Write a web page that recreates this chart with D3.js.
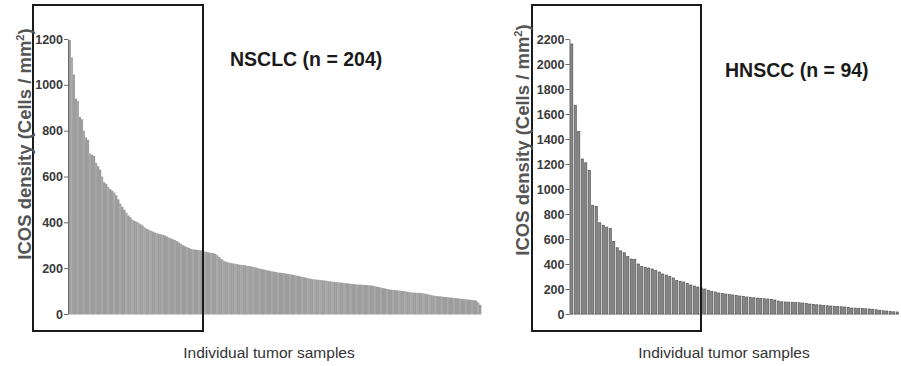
<!DOCTYPE html>
<html>
<head>
<meta charset="utf-8">
<script src="https://cdn.jsdelivr.net/npm/d3@7"></script>
<style>
  body { margin: 0; background: #fff; }
  svg { display: block; font-family: "Liberation Sans", Arial, sans-serif; }
</style>
</head>
<body>
<div id="chart"></div>
<script>
// ICOS density per tumor sample, sorted descending
const nsclcValues = [
  1195, 1120, 1045, 940, 930, 860, 850, 800, 770, 760,
  700, 695, 690, 660, 645, 630, 600, 575, 568, 555,
  545, 538, 530, 518, 500, 482, 468, 455, 442, 430,
  422, 412, 406, 402, 398, 392, 386, 378, 372, 368,
  364, 360, 356, 353, 350, 348, 346, 343, 338, 334,
  330, 326, 323, 318, 312, 306, 300, 296, 292, 288,
  284, 282, 281, 280, 279, 278, 276, 272, 270, 268,
  267, 266, 262, 256, 248, 240, 234, 229, 226, 224,
  222, 220, 219, 217, 215, 214, 213, 212, 210, 209,
  207, 205, 203, 200, 198, 196, 194, 192, 190, 188,
  186, 185, 183, 181, 180, 179, 178, 176, 175, 173,
  172, 170, 168, 166, 164, 162, 160, 158, 156, 154,
  152, 151, 150, 149, 148, 147, 146, 145, 143, 142,
  141, 140, 139, 138, 137, 136, 135, 134, 133, 132,
  131, 130, 129, 128, 128, 127, 127, 126, 125, 125,
  123, 121, 119, 117, 115, 113, 111, 109, 107, 106,
  105, 104, 103, 102, 101, 100, 99, 97, 95, 94,
  93, 93, 92, 92, 91, 90, 88, 86, 84, 82,
  80, 79, 78, 77, 76, 75, 74, 73, 72, 71,
  70, 69, 68, 67, 66, 65, 64, 63, 62, 61,
  60, 58, 50, 40
];

const hnsccValues = [
  2160, 1670, 1460, 1240, 1210, 1150, 870, 860, 730, 710,
  695, 685, 580, 530, 505, 490, 460, 440, 438, 400,
  380, 372, 368, 360, 348, 336, 320, 312, 300, 288,
  268, 262, 256, 244, 232, 224, 216, 208, 200, 190,
  182, 176, 168, 164, 160, 156, 152, 148, 144, 140,
  136, 134, 130, 128, 125, 122, 120, 118, 112, 104,
  98, 96, 95, 94, 92, 90, 88, 84, 80, 76,
  74, 72, 68, 66, 64, 62, 60, 58, 56, 52,
  48, 47, 46, 44, 42, 40, 38, 34, 30, 26,
  24, 20, 18, 16
];

const nsclcTicks = [0, 200, 400, 600, 800, 1000, 1200];
const hnsccTicks = [0, 200, 400, 600, 800, 1000, 1200, 1400, 1600, 1800, 2000, 2200];

const titles = ['NSCLC (n = 204)', 'HNSCC (n = 94)'];
const xLabel = 'Individual tumor samples';

const svg = d3.select('#chart')
  .append('svg')
  .attr('width', 901)
  .attr('height', 366);

const panels = [
  {
    values: nsclcValues, ticks: nsclcTicks, max: 1200, title: titles[0],
    xRange: [68.5, 481], yRange: [314, 39],
    box: [33, 5, 203, 331], titlePos: [230, 66], yLabelPos: [31, 144], xLabelPos: [269, 358],
    padding: 0, fill: '#9d9d9d', stroke: 'none'
  },
  {
    values: hnsccValues, ticks: hnsccTicks, max: 2200, title: titles[1],
    xRange: [570, 899], yRange: [314, 39],
    box: [532, 5, 701, 331], titlePos: [725, 77], yLabelPos: [529, 140], xLabelPos: [724, 358],
    padding: 0.4, fill: '#8c8c8c', stroke: '#505050'
  }
];

const plot_panel = (p) => {
  const g = svg.append('g');

  const x = d3.scaleBand()
    .domain(d3.range(p.values.length))
    .range(p.xRange)
    .paddingInner(p.padding)
    .paddingOuter(p.padding / 2);

  const y = d3.scaleLinear().domain([0, p.max]).range(p.yRange);

  // faint baseline under the bars
  g.append('line')
    .attr('x1', p.xRange[0])
    .attr('x2', p.xRange[1])
    .attr('y1', y(0) + 0.5)
    .attr('y2', y(0) + 0.5)
    .style('stroke', '#cfcfcf')
    .style('stroke-width', 1);

  g.selectAll('.bar')
    .data(p.values)
    .enter()
    .append('rect')
    .attr('class', 'bar')
    .attr('x', (d, i) => x(i))
    .attr('y', (d) => y(d))
    .attr('width', p.padding ? x.bandwidth() : x.bandwidth() + 0.4)
    .attr('height', (d) => y(0) - y(d))
    .style('fill', (d, i) => p.padding ? p.fill : (i % 3 === 1 ? '#a8a8a8' : p.fill))
    .style('stroke', p.stroke)
    .style('stroke-width', 0.7);

  const yAxis = g.append('g')
    .attr('transform', `translate(${p.xRange[0] - 0.5},0)`)
    .call(d3.axisLeft(y)
      .tickValues(p.ticks)
      .tickFormat(d3.format('d'))
      .tickSize(4)
      .tickSizeOuter(0)
      .tickPadding(1));

  yAxis.select('.domain').style('stroke', '#6a6a6a');
  yAxis.selectAll('.tick line').style('stroke', '#6a6a6a');
  yAxis.selectAll('.tick text')
    .style('font-size', '12.5px')
    .style('font-weight', 'bold')
    .style('font-family', '"Liberation Sans", Arial, sans-serif')
    .style('fill', '#3a3a3a');

  // highlight box
  g.append('rect')
    .attr('x', p.box[0])
    .attr('y', p.box[1])
    .attr('width', p.box[2] - p.box[0])
    .attr('height', p.box[3] - p.box[1])
    .style('fill', 'none')
    .style('stroke', '#1a1a1a')
    .style('stroke-width', 2);

  g.append('text')
    .attr('x', p.titlePos[0])
    .attr('y', p.titlePos[1])
    .style('font-size', '19.5px')
    .style('font-weight', 'bold')
    .style('fill', '#1a1a1a')
    .text(p.title);

  const yl = g.append('text')
    .attr('transform', `translate(${p.yLabelPos[0]},${p.yLabelPos[1]}) rotate(-90)`)
    .attr('text-anchor', 'middle')
    .style('font-size', '18.5px')
    .style('font-weight', 'bold')
    .style('fill', '#555');
  yl.append('tspan').text('ICOS density (Cells / mm');
  yl.append('tspan').attr('dy', -7).style('font-size', '11px').text('2');
  yl.append('tspan').attr('dy', 7).text(')');

  g.append('text')
    .attr('x', p.xLabelPos[0])
    .attr('y', p.xLabelPos[1])
    .attr('text-anchor', 'middle')
    .style('font-size', '15.5px')
    .style('fill', '#333')
    .text(xLabel);
};

panels.forEach(plot_panel);
</script>
</body>
</html>
